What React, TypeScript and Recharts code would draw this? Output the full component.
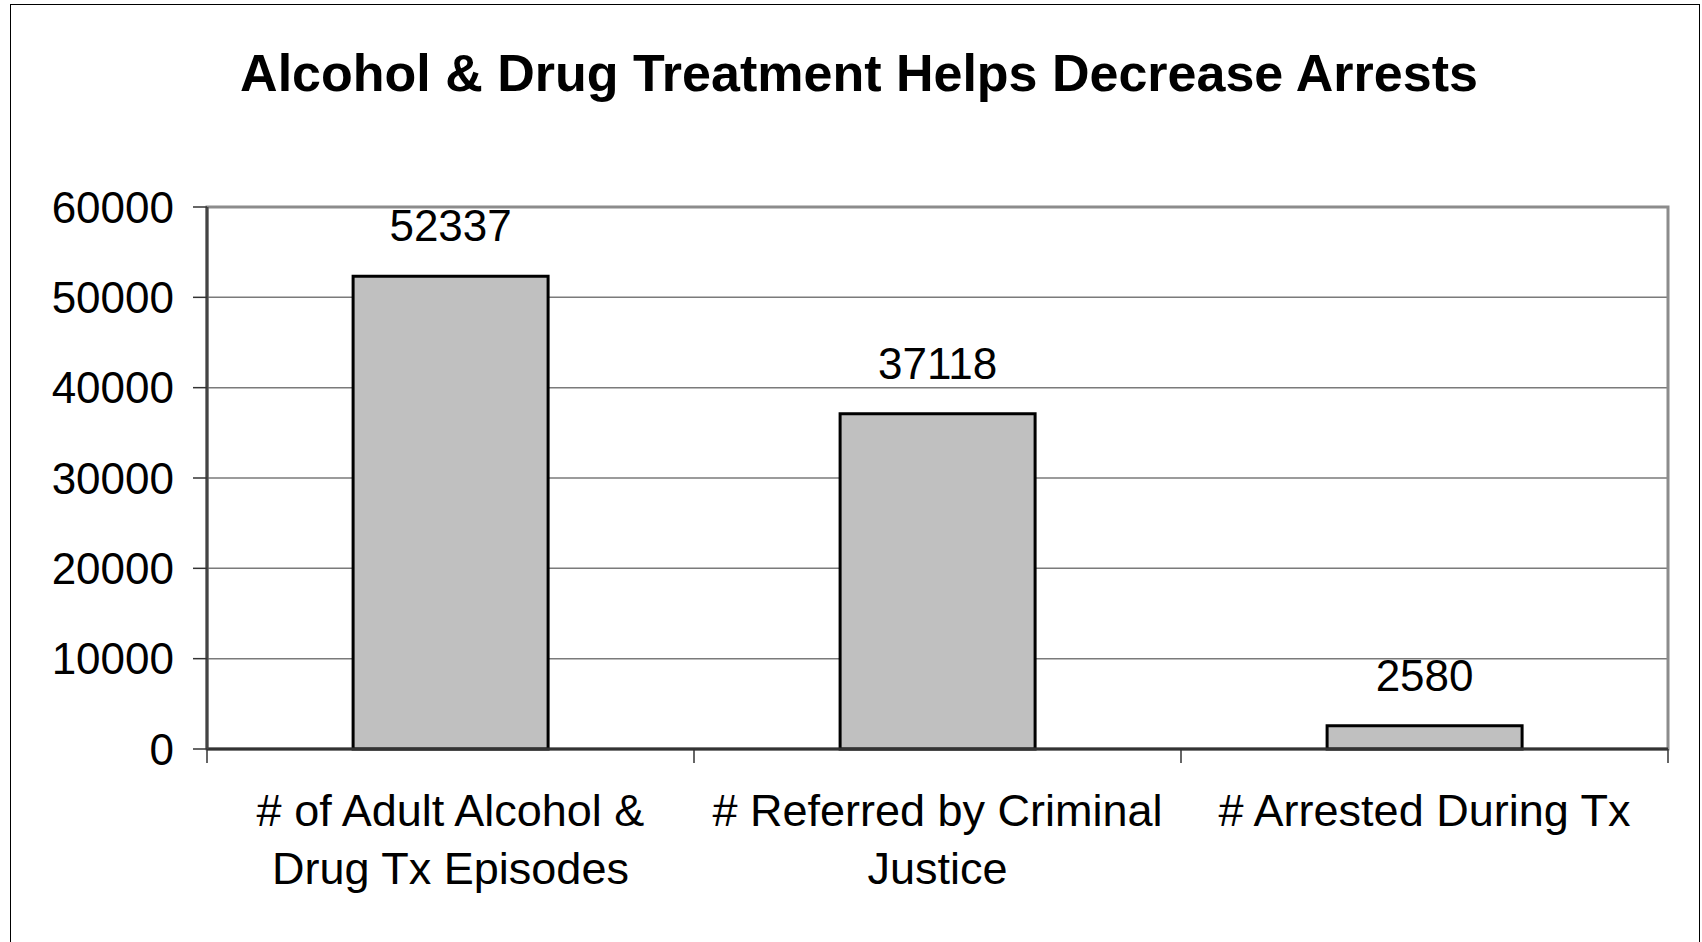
import React from "react"
import { BarChart, Bar, XAxis, YAxis, CartesianGrid, LabelList, ReferenceArea } from "recharts"

// Category labels (split over the lines used in the original chart)
const categoryLines = [
  ["# of Adult Alcohol &", "Drug Tx Episodes"],
  ["# Referred by Criminal", "Justice"],
  ["# Arrested During Tx"],
]
const categories = categoryLines.map((lines) => lines.join(" "))
const counts = [52337, 37118, 2580]
const yTicks = [0, 10000, 20000, 30000, 40000, 50000, 60000]

const data = categories.map((name, i) => ({ name, count: counts[i] }))

const FONT = "'Liberation Sans', Arial, sans-serif"

// Category tick: wrapped label plus Excel-style ticks at the category boundaries
const CategoryTick = (props: any) => {
  const { x, y, payload, index, visibleTicksCount, width } = props
  const half = payload?.offset ? payload.offset : width / visibleTicksCount / 2
  const lines = categoryLines[index] || [payload.value]
  const top = y - 14
  return (
    <g>
      <line x1={x - half} x2={x - half} y1={top} y2={top + 14} stroke="#333" strokeWidth={1.5} />
      {index === visibleTicksCount - 1 && (
        <line x1={x + half} x2={x + half} y1={top} y2={top + 14} stroke="#333" strokeWidth={1.5} />
      )}
      <text x={x} y={y} textAnchor="middle" fontFamily={FONT} fontSize={45} fill="#000">
        {lines.map((line: string, i: number) => (
          <tspan key={i} x={x} dy={i === 0 ? 63 : 58}>
            {line}
          </tspan>
        ))}
      </text>
    </g>
  )
}

export default function App() {
  return (
    <div style={{ position: "absolute", left: 0, top: 0, width: 1702, height: 942, overflow: "hidden", background: "#fff" }}>
      <div
        style={{
          position: "absolute",
          left: 10,
          top: 4,
          width: 1688,
          height: 1000,
          border: "1.5px solid #000",
        }}
      />
      <div
        style={{
          position: "absolute",
          left: 0,
          top: 47,
          width: 1718,
          textAlign: "center",
          fontFamily: FONT,
          fontWeight: "bold",
          fontSize: 52,
          lineHeight: "52px",
          color: "#000",
        }}
      >
        Alcohol &amp; Drug Treatment Helps Decrease Arrests
      </div>
      <div style={{ position: "absolute", left: 0, top: 0 }}>
        <BarChart
          width={1702}
          height={942}
          data={data}
          margin={{ top: 207, right: 34, bottom: 0, left: 0 }}
          barCategoryGap="30%"
        >
          <CartesianGrid vertical={false} stroke="#7a7a7a" strokeWidth={1.5} />
          {/* grey plot-area frame */}
          <ReferenceArea
            x1={categories[0]}
            x2={categories[categories.length - 1]}
            y1={0}
            y2={60000}
            fill="none"
            stroke="#8c8c8c"
            strokeWidth={3}
          />
          <XAxis
            dataKey="name"
            height={193}
            interval={0}
            tickSize={14}
            tickMargin={0}
            tickLine={false}
            tick={<CategoryTick />}
            axisLine={{ stroke: "#333", strokeWidth: 3 }}
          />
          <YAxis
            width={207}
            domain={[0, 60000]}
            ticks={yTicks}
            interval={0}
            tickSize={14}
            tickMargin={19}
            tickLine={{ stroke: "#333", strokeWidth: 1.5 }}
            axisLine={{ stroke: "#444", strokeWidth: 3 }}
            tick={{ fill: "#000", fontSize: 44, fontFamily: FONT }}
          />
          <Bar dataKey="count" fill="#c0c0c0" stroke="#000" strokeWidth={3} isAnimationActive={false}>
            <LabelList dataKey="count" position="top" offset={35} fill="#000" fontSize={44} fontFamily={FONT} />
          </Bar>
        </BarChart>
      </div>
    </div>
  )
}
